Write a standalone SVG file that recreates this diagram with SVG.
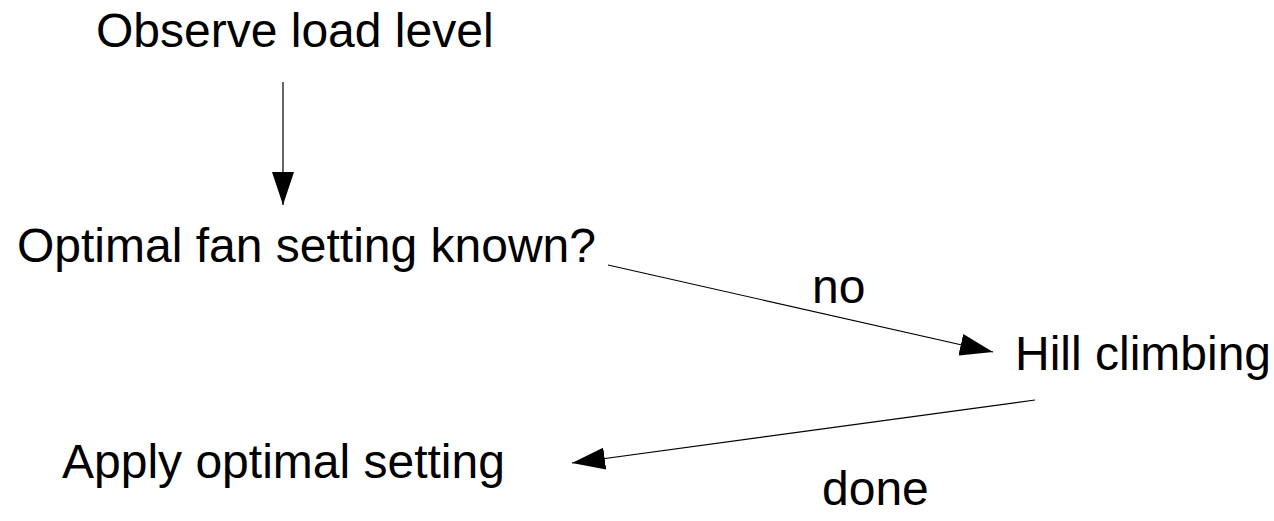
<svg xmlns="http://www.w3.org/2000/svg" width="1274" height="521" viewBox="0 0 1274 521">
<style>
text{font-family:"Liberation Sans",Arial,sans-serif;font-size:48px;fill:#000}
.c{stroke:#000;stroke-width:1.2;fill:none}
</style>
<defs>
<marker id="ah" viewBox="0 0 33 22" refX="33" refY="11" markerWidth="33" markerHeight="22" markerUnits="userSpaceOnUse" orient="auto">
<path d="M0,0 L33,11 L0,22 Z" fill="#000"/>
</marker>
</defs>
<rect width="1274" height="521" fill="#fff"/>
<g id="connectors">
<line class="c" x1="283" y1="82" x2="283" y2="205" marker-end="url(#ah)"/>
<line class="c" x1="608" y1="265" x2="993" y2="352" marker-end="url(#ah)"/>
<line class="c" x1="1035" y1="400" x2="572" y2="463" marker-end="url(#ah)"/>
<text x="812" y="303">no</text>
<text x="822" y="505">done</text>
</g>
<g id="observe"><text x="96" y="47">Observe load level</text></g>
<g id="known"><text x="17" y="262">Optimal fan setting known?</text></g>
<g id="hill"><text x="1015" y="370">Hill climbing</text></g>
<g id="apply"><text x="62" y="478">Apply optimal setting</text></g>
</svg>
